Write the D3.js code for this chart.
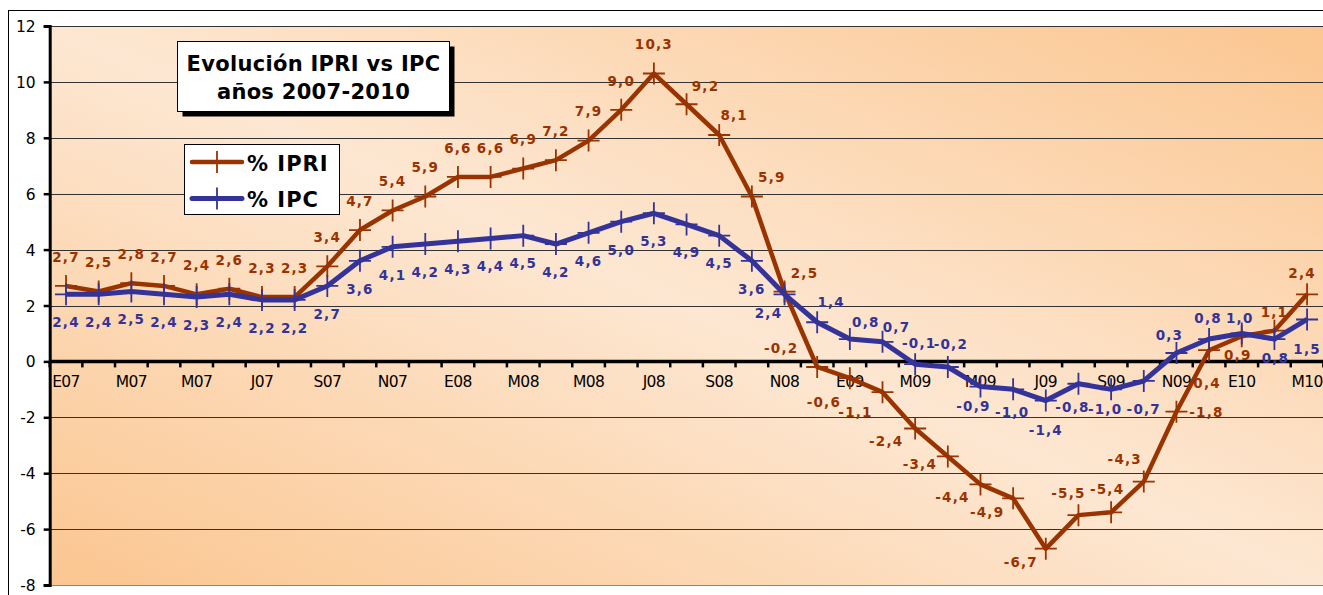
<!DOCTYPE html>
<html><head><meta charset="utf-8">
<script src="https://cdn.jsdelivr.net/npm/d3@7"></script>
<style>html,body{margin:0;padding:0;background:#fff;overflow:hidden}svg{display:block}</style>
</head><body>
<script>
// ---- data ----
const months = ["E07","F07","M07","A07","M07","J07","J07","A07","S07","O07","N07","D07",
                "E08","F08","M08","A08","M08","J08","J08","A08","S08","O08","N08","D08",
                "E09","F09","M09","A09","M09","J09","J09","A09","S09","O09","N09","D09",
                "E10","F10","M10"];
const ipri = [2.7,2.5,2.8,2.7,2.4,2.6,2.3,2.3,3.4,4.7,5.4,5.9,6.6,6.6,6.9,7.2,7.9,9.0,10.3,9.2,8.1,5.9,2.5,-0.2,
              -0.6,-1.1,-2.4,-3.4,-4.4,-4.9,-6.7,-5.5,-5.4,-4.3,-1.8,0.4,0.9,1.1,2.4];
const ipc  = [2.4,2.4,2.5,2.4,2.3,2.4,2.2,2.2,2.7,3.6,4.1,4.2,4.3,4.4,4.5,4.2,4.6,5.0,5.3,4.9,4.5,3.6,2.4,1.4,
              0.8,0.7,-0.1,-0.2,-0.9,-1.0,-1.4,-0.8,-1.0,-0.7,0.3,0.8,1.0,0.8,1.5];
const yTicks = [-8,-6,-4,-2,0,2,4,6,8,10,12];
const seriesNames = ["% IPRI","% IPC"];
const titleLines = ["Evolución IPRI vs IPC","años 2007-2010"];

// ---- label placement (style, not data) ----
const ipriOffsets = {19:[19,-18],20:[15,-20],21:[20,-19],22:[20,-18],23:[-36,-19],24:[-26,24],25:[-27,20],
  26:[-29,13],27:[-28,8],28:[-28,13],29:[-26,14],30:[-25,13],31:[-10,-22],32:[-4,-23],33:[-19,-22],
  34:[30,0],35:[-2,33],36:[-4,19],37:[0,-19],38:[-5,-21]};
const ipcOffsets = {22:[-16,19],23:[14,-20],24:[16,-17],25:[14,-15],26:[4,-21],27:[3,-23],28:[-7,20],
  29:[-1,23],30:[0,30],31:[-6,23],32:[-6,20],34:[-7,-18],35:[-1,-21],36:[-2,-15],37:[1,19],38:[0,30]};

const W = 1323, H = 595;
const plotL = 49.7, plotR = 1323.4, plotT = 26, plotB = 585;
const RED = "#993300", BLUE = "#333399";
const FONT = "DejaVu Sans, Verdana, sans-serif";

const svg = d3.select("body").append("svg").attr("width", W).attr("height", H);
const defs = svg.append("defs");
const grad = defs.append("linearGradient").attr("id","bg").attr("x1",0).attr("y1",1).attr("x2",1).attr("y2",0);
grad.append("stop").attr("offset",0).attr("stop-color","#fbc690");
grad.append("stop").attr("offset",0.5).attr("stop-color","#fde7d2");
grad.append("stop").attr("offset",1).attr("stop-color","#fbc690");

// outer frame
svg.append("rect").attr("x",8.5).attr("y",10.5).attr("width",1330).attr("height",600)
  .attr("fill","#fff").attr("stroke","#000");

const x = d3.scalePoint().domain(d3.range(months.length)).range([plotL, plotR]).padding(0.5);
const step = x.step();
const y = d3.scaleLinear().domain([-8,12]).range([plotB, plotT]);

svg.append("rect").attr("x",plotL).attr("y",plotT).attr("width",plotR-plotL).attr("height",plotB-plotT)
  .attr("fill","url(#bg)");

// gridlines
svg.append("g").selectAll("line").data(yTicks).join("line")
  .attr("x1",plotL).attr("x2",plotR)
  .attr("y1",d=>Math.round(y(d))+0.5).attr("y2",d=>Math.round(y(d))+0.5)
  .attr("stroke",d=>d===-8?"#888":"#333").attr("stroke-width",1);

// y axis
const yAxis = svg.append("g").attr("transform",`translate(${plotL},0)`)
  .call(d3.axisLeft(y).tickValues(yTicks).tickSize(6).tickPadding(8).tickFormat(d=>String(d)));
yAxis.select(".domain").attr("stroke","#000").attr("stroke-width",3);
yAxis.selectAll(".tick line").attr("stroke","#000").attr("stroke-width",2.5);
yAxis.selectAll(".tick text").attr("font-family",FONT).attr("font-size",15.5)
  .attr("fill","#000").attr("dy","0.36em");

// x axis at zero
const y0 = y(0);
const xg = svg.append("g");
xg.append("line").attr("x1",plotL).attr("x2",plotR).attr("y1",y0).attr("y2",y0)
  .attr("stroke","#000").attr("stroke-width",3.5);
xg.selectAll("line.tk").data(d3.range(months.length+1)).join("line").attr("class","tk")
  .attr("x1",d=>x(0)-step/2+d*step).attr("x2",d=>x(0)-step/2+d*step)
  .attr("y1",y0).attr("y2",y0+6).attr("stroke","#000").attr("stroke-width",2.5);
xg.selectAll("text").data(d3.range(0,months.length,2)).join("text")
  .attr("x",d=>x(d)).attr("y",y0+26).attr("text-anchor","middle")
  .attr("font-family",FONT).attr("font-size",15.5).attr("letter-spacing",-0.6)
  .attr("fill","#000").text(d=>months[d]);

// lines
const line = d3.line().x((d,i)=>x(i)).y(d=>y(d));
function drawSeries(vals, color, width){
  const g = svg.append("g");
  g.append("path").datum(vals).attr("d",line).attr("fill","none").attr("stroke",color)
    .attr("stroke-width",width).attr("stroke-linejoin","round");
  vals.forEach((v,i)=>{
    const cx = x(i), cy = y(v);
    g.append("path").attr("d",`M${cx-11},${cy}H${cx+11}M${cx},${cy-11}V${cy+11}`)
      .attr("stroke",color).attr("stroke-width",1.8).attr("fill","none");
  });
}
drawSeries(ipri, RED, 4.5);
drawSeries(ipc, BLUE, 5);

// data labels
const fmt = v => v.toFixed(1).replace(".",",");
function drawLabels(vals, color, offsets, defOff){
  svg.append("g").selectAll("text").data(vals).join("text")
    .attr("x",(d,i)=>x(i)+(offsets[i]||defOff)[0])
    .attr("y",(d,i)=>y(d)+(offsets[i]||defOff)[1])
    .attr("dy","0.36em").attr("text-anchor","middle")
    .attr("font-family",FONT).attr("font-weight","bold")
    .attr("font-size",13.5).attr("letter-spacing",1.2).attr("fill",color)
    .text(d=>fmt(d));
}
drawLabels(ipri, RED, ipriOffsets, [0,-29]);
drawLabels(ipc, BLUE, ipcOffsets, [0,28]);

// title box
const tb = {x:177.5,y:41.5,w:272,h:70};
svg.append("rect").attr("x",tb.x+5).attr("y",tb.y+5).attr("width",tb.w).attr("height",tb.h).attr("fill","#000");
svg.append("rect").attr("x",tb.x).attr("y",tb.y).attr("width",tb.w).attr("height",tb.h)
  .attr("fill","#fff").attr("stroke","#000").attr("stroke-width",1);
svg.append("g").selectAll("text").data(titleLines).join("text")
  .attr("x",tb.x+tb.w/2).attr("y",(d,i)=>70.5+i*28).attr("text-anchor","middle")
  .attr("font-family",FONT).attr("font-weight","bold").attr("font-size",21).attr("letter-spacing",0.3)
  .attr("fill","#000").text(d=>d);

// legend
const lg = svg.append("g");
lg.append("rect").attr("x",184.5).attr("y",144.5).attr("width",155).attr("height",70)
  .attr("fill","#fff").attr("stroke","#000");
[[RED,162,4.5],[BLUE,198.5,5]].forEach(([c,ly,w],i)=>{
  lg.append("line").attr("x1",192).attr("x2",242).attr("y1",ly).attr("y2",ly)
    .attr("stroke",c).attr("stroke-width",w).attr("stroke-linecap","round");
  lg.append("path").attr("d",`M206,${ly}H228M217,${ly-11}V${ly+11}`).attr("stroke",c).attr("stroke-width",1.8);
  lg.append("text").attr("x",247).attr("y",ly+8.5)
    .attr("font-family",FONT).attr("font-weight","bold").attr("font-size",21).attr("letter-spacing",1)
    .attr("fill","#000").text(seriesNames[i]);
});
</script>
</body></html>
